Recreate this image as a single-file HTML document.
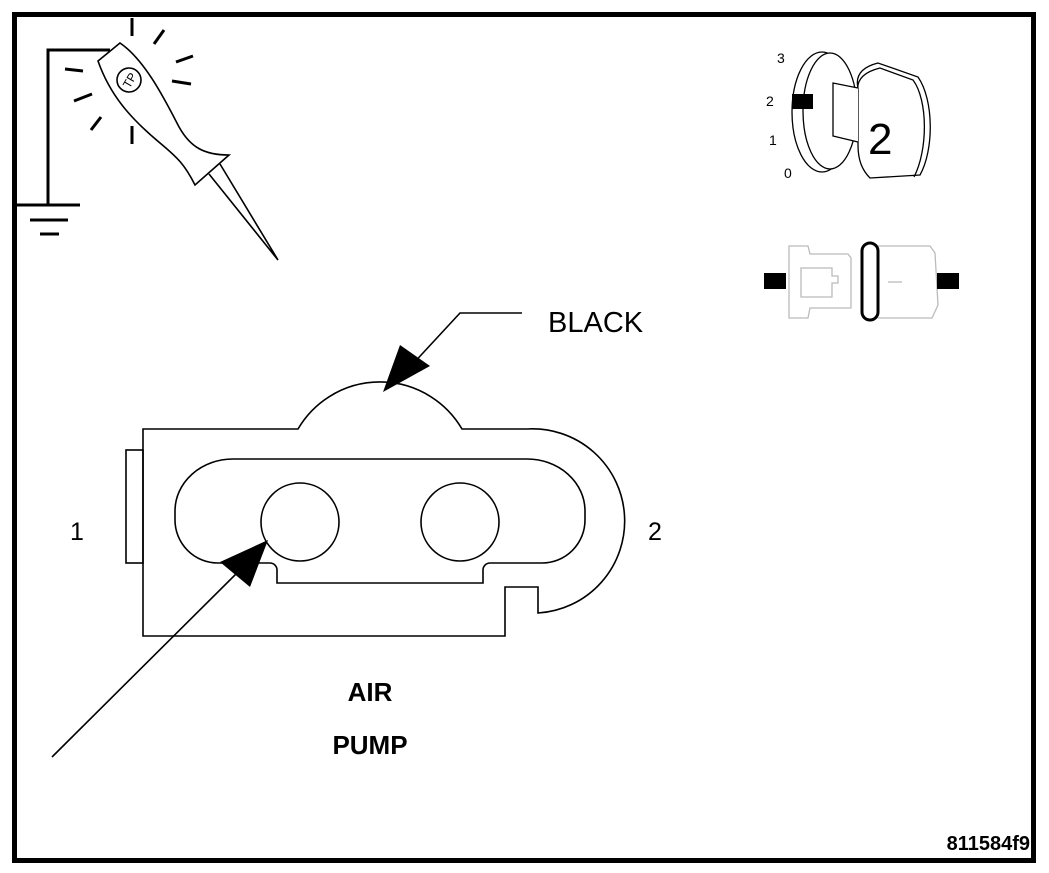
<!DOCTYPE html>
<html><head><style>body{margin:0;background:#fff}svg{display:block}</style></head><body>
<svg width="1049" height="873" viewBox="0 0 1049 873" xmlns="http://www.w3.org/2000/svg" font-family="Liberation Sans, sans-serif">
<rect x="0" y="0" width="1049" height="873" fill="#fff"/>
<rect x="14.5" y="14.5" width="1019" height="846" fill="none" stroke="#000" stroke-width="5"/>
<!-- ground -->
<g stroke="#000" stroke-width="3" fill="none">
<polyline points="110,50 48,50 48,205"/>
<line x1="17" y1="205" x2="80" y2="205"/>
<line x1="30" y1="220" x2="68" y2="220"/>
<line x1="40" y1="234" x2="59" y2="234"/>
<line x1="132" y1="18" x2="132" y2="36"/>
<line x1="164" y1="30" x2="154" y2="44"/>
<line x1="176" y1="62" x2="193" y2="56"/>
<line x1="172" y1="81" x2="191" y2="84"/>
<line x1="65" y1="69" x2="83" y2="71"/>
<line x1="74" y1="101" x2="92" y2="94"/>
<line x1="91" y1="130" x2="101" y2="117"/>
<line x1="132" y1="126" x2="132" y2="144"/>
</g>
<g stroke="#000" stroke-width="1.6" fill="#fff">
<path d="M98,61 L120,43 C145,60 165,100 178,125 C190,148 205,155 229,155 L195,185 C185,165 178,158 160,143 C130,118 110,95 98,61 Z"/>
<path d="M209,174 L278,260 L220,164" fill="none"/>
<circle cx="129" cy="80" r="12" fill="none"/>
</g>
<text x="129" y="85" font-size="12" text-anchor="middle" transform="rotate(-60 129 80)">TP</text>
<!-- key -->
<g stroke="#000" stroke-width="1.3" fill="#fff">
<ellipse cx="822" cy="112" rx="30" ry="60"/>
<ellipse cx="830" cy="111" rx="27" ry="58"/>
<path d="M858,88 C855,75 862,67 878,63 L918,77 C934,100 934,150 920,175 L870,178 C862,170 858,160 858,145 Z"/>
<path d="M858,92 C856,80 864,72 880,68 L913,80 C928,100 928,150 914,177" fill="none"/>
<path d="M858,88 L833,83 L833,136 L858,142" />
</g>
<rect x="792" y="94" width="21" height="15" fill="#000"/>
<text x="868" y="154" font-size="44">2</text>
<text x="777" y="63" font-size="14">3</text>
<text x="766" y="106" font-size="14">2</text>
<text x="769" y="145" font-size="14">1</text>
<text x="784" y="178" font-size="14">0</text>
<!-- connector icon -->
<g stroke="#bbb" stroke-width="1.3" fill="#fff">
<path d="M789,246 L808,246 L810,254 L848,254 L851,258 L851,308 L810,308 L808,318 L789,318 Z"/>
<path d="M801,268 L832,268 L832,276 L838,276 L838,283 L832,283 L832,297 L801,297 Z" fill="none"/>
<path d="M878,246 L930,246 L935,253 L938,305 L932,318 L878,318"/>
<line x1="888" y1="282" x2="902" y2="282"/>
</g>
<rect x="862" y="243" width="16" height="77" rx="8" fill="#fff" stroke="#000" stroke-width="3"/>
<rect x="764" y="273" width="22" height="16" fill="#000"/>
<rect x="937" y="273" width="22" height="16" fill="#000"/>
<!-- air pump connector -->
<g stroke="#000" stroke-width="1.6" fill="none">
<path d="M143,429 L298,429 A95,95 0 0 1 462,429 L527,429 A92,92 0 0 1 538,613 L538,587 L505,587 L505,636 L143,636 Z"/>
<rect x="126" y="450" width="17" height="113"/>
<path d="M233,459 L527,459 A58,52 0 0 1 585,511 L585,520 A43,43 0 0 1 542,563 L490,563 A7,7 0 0 0 483,570 L483,583 L277,583 L277,570 A7,7 0 0 0 270,563 L218,563 A43,43 0 0 1 175,520 L175,511 A58,52 0 0 1 233,459 Z"/>
<circle cx="300" cy="522" r="39"/>
<circle cx="460" cy="522" r="39"/>
<polyline points="522,313 460,313 410,367"/>
<line x1="52" y1="757" x2="240" y2="570"/>
</g>
<polygon points="383,392 400,345 430,366" fill="#000"/>
<polygon points="268,540 220,562 250,587" fill="#000"/>
<text x="548" y="332" font-size="29">BLACK</text>
<text x="70" y="540" font-size="25">1</text>
<text x="648" y="540" font-size="25">2</text>
<text x="370" y="701" font-size="26" font-weight="bold" text-anchor="middle">AIR</text>
<text x="370" y="754" font-size="26" font-weight="bold" text-anchor="middle">PUMP</text>
<text x="1030" y="850" font-size="20" font-weight="bold" text-anchor="end">811584f9</text>
</svg>
</body></html>
